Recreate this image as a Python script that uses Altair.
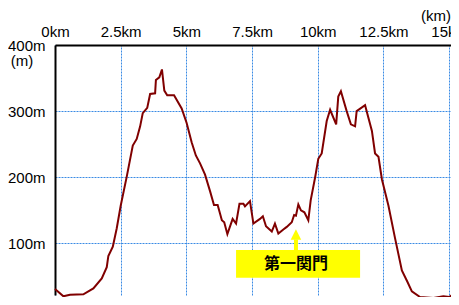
import altair as alt
import pandas as pd

# Elevation profile (distance in km, elevation in m)
km = [0.0, 0.32, 0.57, 1.08, 1.46, 1.78, 1.97, 2.03, 2.20, 2.35, 2.50, 2.73, 2.96, 3.11,
      3.24, 3.34, 3.51, 3.62, 3.81, 3.84, 3.97, 4.07, 4.16, 4.27, 4.53, 4.82, 5.01, 5.20,
      5.36, 5.52, 5.71, 5.90, 6.05, 6.19, 6.35, 6.44, 6.56, 6.76, 6.89, 7.02, 7.17, 7.23,
      7.42, 7.55, 7.80, 7.91, 8.03, 8.25, 8.37, 8.50, 8.69, 8.82, 9.01, 9.10, 9.17, 9.26,
      9.36, 9.49, 9.64, 9.73, 9.90, 10.02, 10.15, 10.34, 10.47, 10.70, 10.78, 10.88, 11.10,
      11.26, 11.42, 11.48, 11.80, 12.06, 12.18, 12.31, 12.44, 12.69, 12.94, 13.20, 13.41,
      13.58, 13.89, 14.40, 14.78, 15.01, 15.35]
elev = [31, 20, 22.5, 23, 32, 47, 64, 81, 95, 123, 157, 201, 248, 258,
        277, 297, 305, 326, 327, 347, 351, 363, 331, 324, 324, 304, 282, 253,
        233, 221, 204, 179, 158, 158, 135, 132, 114, 137, 130, 160, 160, 156,
        164, 130, 137, 141, 126, 118, 130, 115, 121, 125, 132, 143, 142, 159,
        150, 147, 135, 165, 200, 228, 236, 285, 302, 280, 322, 330, 300,
        280, 277, 300, 309, 270, 236, 231, 197, 157, 108, 59, 42,
        27.5, 19, 17.6, 20, 19, 29]

x_ticks = [0, 2.5, 5, 7.5, 10, 12.5, 15]
y_ticks = [100, 200, 300, 400]

checkpoint_label = ["第一関門"]
checkpoint_km = [9.17]

df = pd.DataFrame({"km": km, "m": elev})

xs = alt.Scale(domain=[0, 15.07], nice=False, zero=False)
ys = alt.Scale(domain=[22, 400], nice=False, zero=False)

FONT = "Liberation Sans"
FS = 15
GRID = "#3a8be4"

base = alt.Chart(df)

line = base.mark_line(color="#800000", strokeWidth=2, clip=False).encode(
    x=alt.X("km:Q", scale=xs,
            axis=alt.Axis(orient="top", values=x_ticks, labelExpr="datum.value + 'km'",
                          title=None, grid=True, gridColor=GRID, gridDash=[2, 1],
                          gridWidth=1, ticks=False, labelPadding=6, labelFlush=False,
                          labelOverlap=False, domainColor="black", domainWidth=2,
                          labelFont=FONT, labelFontSize=FS, labelColor="black")),
    y=alt.Y("m:Q", scale=ys,
            axis=alt.Axis(values=y_ticks, labelExpr="datum.value + 'm'", title=None,
                          grid=True, gridColor=GRID, gridDash=[2, 1], gridWidth=1,
                          ticks=False, labelPadding=10, labelFlush=False,
                          labelOverlap=False, domainColor="black", domainWidth=2,
                          labelFont=FONT, labelFontSize=FS, labelColor="black")),
)

ann = pd.DataFrame({"label": checkpoint_label, "km": checkpoint_km,
                    "x1": [6.89], "x2": [11.61], "y1": [48], "y2": [90],
                    "base": [106], "mid": [69]})
ann_base = alt.Chart(ann)

box = ann_base.mark_rect(color="#ffff00").encode(
    x=alt.X("x1:Q", scale=xs), x2="x2:Q",
    y=alt.Y("y1:Q", scale=ys), y2="y2:Q")

shaft = ann_base.mark_rule(color="#ffff00", strokeWidth=4).encode(
    x=alt.X("km:Q", scale=xs), y=alt.Y("base:Q", scale=ys), y2="y2:Q")

head = ann_base.mark_point(shape="M-1,1L0,-1L1,1Z", filled=True, color="#ffff00",
                           opacity=1, size=110, strokeWidth=0).encode(
    x=alt.X("km:Q", scale=xs), y=alt.Y("base:Q", scale=ys), yOffset=alt.value(-5))

label = ann_base.mark_text(font="Noto Sans CJK JP", fontSize=16, fontWeight="bold",
                           color="black").encode(
    x=alt.X("km:Q", scale=xs), y=alt.Y("mid:Q", scale=ys), text="label:N")

units = pd.DataFrame({"t": ["(m)", "(km)"]})
m_unit = alt.Chart(units.iloc[[0]]).mark_text(font=FONT, fontSize=FS, align="center",
                                              color="black").encode(
    x=alt.value(-33), y=alt.value(16), text="t:N")
km_unit = alt.Chart(units.iloc[[1]]).mark_text(font=FONT, fontSize=FS, align="right",
                                               color="black").encode(
    x=alt.value(396), y=alt.value(-29), text="t:N")

chart = alt.layer(line, box, shaft, head, label, m_unit, km_unit).properties(
    width=396, height=250, autosize="none",
    padding={"left": 47, "top": 37, "right": 0, "bottom": 2},
).configure_view(stroke=None)

chart.save("out.html", embed_options={"renderer": "svg", "actions": False})
